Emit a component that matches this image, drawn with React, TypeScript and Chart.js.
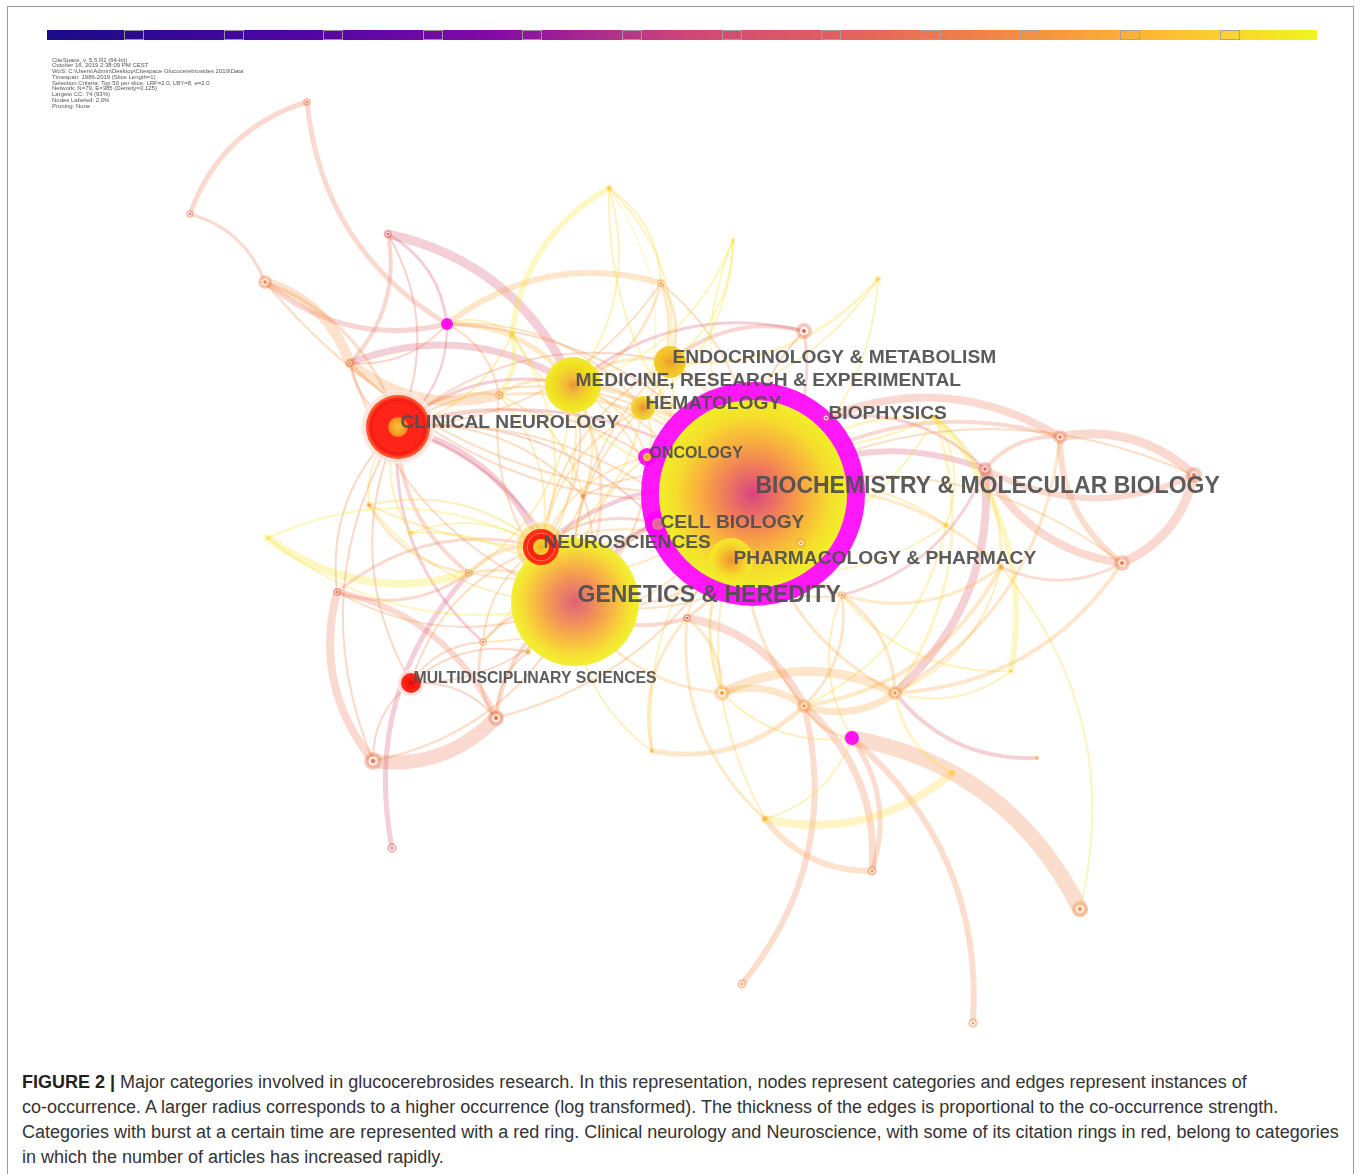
import React, { useEffect, useRef } from "react";
import { Chart, registerables } from "chart.js";

Chart.register(...registerables);

const CANVAS_W = 1360;
const CANVAS_H = 1060;
const FIRST_YEAR = 1986;
const LAST_YEAR = 2019;

// ---- header text of the CiteSpace map ----
const infoLines = [
  "CiteSpace, v. 5.5.R2 (64-bit)",
  "October 16, 2019 2:38:09 PM CEST",
  "WoS: C:\\Users\\Admin\\Desktop\\Citespace Glucocerebrosides 2019\\Data",
  "Timespan: 1986-2019 (Slice Length=1)",
  "Selection Criteria: Top 50 per slice, LRF=2.0, LBY=8, e=2.0",
  "Network: N=79, E=385 (Density=0.125)",
  "Largest CC: 74 (93%)",
  "Nodes Labeled: 2.0%",
  "Pruning: None",
];

// ---- nodes (layout coordinates, radius, first year) ----
const nodeLabels = [
  "BIOCHEMISTRY & MOLECULAR BIOLOGY", "GENETICS & HEREDITY", "CLINICAL NEUROLOGY", "NEUROSCIENCES",
  "MEDICINE, RESEARCH & EXPERIMENTAL", "ENDOCRINOLOGY & METABOLISM", "HEMATOLOGY", "BIOPHYSICS",
  "ONCOLOGY", "CELL BIOLOGY", "PHARMACOLOGY & PHARMACY", "MULTIDISCIPLINARY SCIENCES",
  "", "", "", "", "", "", "", "", "", "", "", "", "", "", "", "", "", "", "", "", "", "", "", "",
  "", "", "", "", "", "", "", "", "", "", "", "", "", "", "", "", "", "", "", "", "", "", "",
];
const nodeX = [
  753, 575, 398, 541, 573, 670, 643, 826, 647, 658, 731, 411,
  307, 190, 265, 388, 447, 350, 499, 609, 661, 512, 733, 878, 804, 935, 1060, 985, 1194, 1122,
  1001, 946, 842, 801, 583, 369, 411, 469, 337, 483, 528, 496, 373, 392, 268, 687, 722, 804,
  895, 852, 1011, 1037, 952, 652, 765, 872, 1080, 742, 973,
];
const nodeY = [
  494, 602, 427, 547, 385, 362, 408, 418, 457, 524, 560, 683,
  102, 214, 282, 234, 324, 363, 395, 188, 283, 334, 240, 279, 331, 417, 437, 469, 475, 563,
  567, 525, 595, 543, 496, 505, 533, 573, 592, 642, 652, 718, 761, 848, 538, 618, 693, 706,
  693, 738, 671, 758, 773, 751, 819, 871, 909, 984, 1023,
];
const nodeRadius = [
  112, 64, 32, 18, 28, 16, 12, 5, 9, 13, 22, 10,
  4, 4, 7, 4, 6, 4, 4, 3, 4, 3, 2, 3, 8, 3, 7, 7, 8, 8,
  3, 3, 4, 5, 3, 3, 3, 4, 4, 4, 3, 8, 9, 5, 2, 4, 8, 7,
  7, 7, 2, 2, 3, 2, 3, 5, 8, 5, 5,
];
const nodeYear = [
  1986, 1987, 1995, 1993, 1992, 1994, 1994, 2004, 1996, 1990, 1995, 2005,
  2009, 2009, 2010, 2007, 2000, 2011, 2011, 2016, 2012, 2016, 2017, 2016, 2008, 2016, 2009, 2007, 2009, 2010,
  2013, 2016, 2012, 2012, 2010, 2013, 2017, 2010, 2008, 2011, 2013, 2009, 2009, 2006, 2018, 2007, 2013, 2012,
  2012, 2000, 2017, 2014, 2016, 2015, 2014, 2011, 2011, 2011, 2011,
];
// high betweenness centrality (purple ring) and citation burst (red ring)
const centralNodes = [0, 8, 9, 16, 49];
const burstNodes = [2, 3, 11];

// ---- edges: [source, target, co-occurrence strength, year] ----
const edges: [number, number, number, number][] = [
  [13, 12, 5, 2009], [16, 12, 5, 2009], [13, 14, 3, 2009], [16, 14, 5, 2007], [14, 17, 10, 2012],
  [18, 17, 10, 2012], [15, 16, 3, 2003], [15, 4, 9, 2004], [15, 17, 4, 2008], [17, 4, 7, 2004],
  [16, 20, 6, 2013], [16, 4, 5, 2014], [16, 2, 2, 2005], [16, 18, 2, 2012], [16, 21, 2, 2016],
  [16, 6, 2, 2013], [16, 0, 2, 2010], [16, 17, 2, 2010], [21, 19, 6, 2018], [21, 18, 5, 2018],
  [19, 4, 2, 2017], [19, 20, 2, 2017], [19, 6, 1, 2017], [20, 4, 3, 2013], [20, 6, 3, 2014],
  [20, 0, 2, 2012], [20, 5, 3, 2013], [22, 5, 2, 2018], [22, 6, 2, 2018], [23, 5, 3, 2017],
  [23, 0, 2, 2017], [5, 24, 4, 2008], [24, 0, 3, 2008], [4, 24, 3, 2004], [2, 17, 3, 2010],
  [7, 26, 8, 2009], [26, 28, 9, 2009], [28, 29, 9, 2009], [29, 26, 6, 2010], [29, 27, 8, 2009],
  [27, 26, 4, 2009], [0, 27, 6, 2004], [0, 26, 4, 2009], [7, 27, 3, 2005], [25, 31, 2, 2017],
  [25, 30, 3, 2016], [25, 48, 3, 2017], [0, 25, 3, 2017], [25, 50, 6, 2018], [27, 48, 8, 2005],
  [29, 48, 4, 2013], [30, 32, 3, 2014], [30, 47, 4, 2014], [29, 30, 3, 2010], [30, 48, 2, 2016],
  [27, 32, 3, 2006], [28, 27, 6, 2009], [26, 48, 3, 2013], [0, 7, 3, 2008], [31, 47, 2, 2017],
  [0, 31, 2, 2016], [0, 30, 3, 2014],
  [45, 47, 8, 2009], [47, 55, 7, 2010], [46, 48, 9, 2013], [46, 47, 7, 2013], [48, 47, 7, 2013],
  [49, 56, 16, 2010], [49, 58, 6, 2010], [49, 55, 5, 2010], [47, 57, 6, 2010], [55, 54, 6, 2012],
  [52, 54, 8, 2017], [47, 53, 5, 2013], [53, 0, 2, 2017], [53, 45, 3, 2014], [51, 48, 4, 2005],
  [50, 48, 2, 2017], [50, 32, 2, 2017], [30, 56, 2, 2017], [49, 54, 2, 2017], [49, 47, 3, 2012],
  [49, 32, 2, 2016], [49, 46, 2, 2016], [32, 47, 3, 2013], [32, 48, 3, 2013], [32, 0, 3, 2012],
  [45, 46, 3, 2014], [45, 1, 4, 2009], [54, 45, 3, 2014], [52, 48, 3, 2017], [47, 0, 3, 2013],
  [48, 0, 3, 2013], [46, 0, 2, 2017], [46, 1, 3, 2014],
  [42, 38, 8, 2009], [38, 41, 6, 2009], [41, 42, 14, 2009], [43, 37, 5, 2004], [41, 1, 4, 2009],
  [41, 39, 3, 2010], [41, 40, 2, 2012], [11, 39, 2, 2010], [11, 40, 2, 2010], [11, 41, 2, 2009],
  [37, 2, 4, 2009], [37, 3, 4, 2013], [37, 1, 3, 2013], [37, 38, 3, 2009], [37, 35, 3, 2014],
  [39, 2, 3, 2004], [39, 1, 3, 2010], [39, 3, 2, 2012], [37, 44, 8, 2018], [35, 2, 2, 2017],
  [36, 2, 2, 2017], [36, 3, 2, 2017], [2, 4, 3, 2004], [2, 3, 6, 2004], [2, 1, 3, 2004],
  [2, 18, 3, 2013], [38, 3, 3, 2009], [40, 1, 3, 2012], [42, 11, 2, 2009],
  [4, 0, 4, 2013], [4, 1, 3, 2013], [4, 6, 3, 2014], [4, 5, 3, 2014], [4, 34, 2, 2016],
  [4, 3, 2, 2012], [5, 0, 3, 2013], [6, 0, 3, 2014], [8, 0, 2, 2010], [34, 0, 2, 2012],
  [34, 1, 2, 2012], [3, 0, 4, 2003], [3, 1, 4, 2005], [1, 0, 5, 2004], [10, 0, 3, 2012],
  [18, 0, 3, 2013], [18, 4, 3, 2014], [2, 0, 3, 2005], [2, 34, 2, 2012], [33, 1, 2, 2013],
  [8, 1, 2, 2012], [6, 3, 2, 2016], [34, 3, 2, 2013], [18, 3, 2, 2016], [18, 34, 2, 2016],
  [2, 6, 2, 2012], [2, 5, 2, 2010], [2, 8, 2, 2011], [2, 9, 2, 2008], [2, 10, 2, 2012],
  [4, 8, 2, 2015], [4, 9, 2, 2014], [4, 10, 2, 2014], [4, 37, 2, 2016], [4, 39, 2, 2016],
  [3, 5, 2, 2013], [3, 6, 2, 2014], [3, 8, 2, 2015], [3, 9, 3, 2008], [3, 10, 2, 2014],
  [1, 5, 2, 2013], [1, 6, 2, 2013], [1, 8, 2, 2014], [1, 9, 3, 2007], [10, 1, 3, 2012],
  [1, 18, 2, 2012], [1, 17, 2, 2011], [0, 17, 2, 2011], [0, 14, 2, 2012], [0, 35, 2, 2016],
  [0, 37, 2, 2014], [0, 39, 2, 2014], [0, 41, 2, 2012], [0, 45, 3, 2011], [0, 29, 2, 2013],
  [0, 28, 2, 2012], [0, 24, 2, 2010], [0, 21, 2, 2017], [0, 19, 2, 2017], [0, 22, 2, 2018],
  [1, 44, 2, 2018], [1, 35, 2, 2016], [1, 38, 2, 2011], [1, 42, 2, 2011],
  [1, 11, 2, 2010], [11, 2, 2, 2010], [11, 3, 2, 2012], [5, 6, 2, 2015], [6, 8, 2, 2015],
  [8, 9, 2, 2012], [9, 10, 2, 2013], [5, 8, 2, 2016], [19, 5, 2, 2017], [22, 4, 2, 2018],
  [23, 6, 2, 2017], [25, 10, 2, 2017], [25, 6, 2, 2017], [31, 10, 2, 2017], [33, 10, 2, 2013],
  [32, 10, 2, 2013], [45, 10, 2, 2014], [46, 10, 2, 2015], [53, 1, 2, 2016], [54, 0, 2, 2016],
  [42, 2, 2, 2010], [38, 2, 2, 2010], [14, 2, 3, 2011],
  [15, 2, 2, 2008], [20, 2, 2, 2012], [21, 2, 2, 2016], [21, 3, 2, 2017], [44, 3, 2, 2018],
  [36, 1, 2, 2017], [35, 3, 2, 2016],
];

// ---- styles ----
const barStops: [number, number[]][] = [
  [0, [25, 12, 135]], [0.2, [80, 5, 165]], [0.35, [130, 10, 165]], [0.5, [205, 70, 120]],
  [0.62, [225, 95, 95]], [0.75, [242, 135, 70]], [0.85, [252, 175, 55]], [0.93, [252, 210, 45]],
  [1, [238, 245, 30]],
];
function tone(year: number): number[] {
  const t = Math.max(0, Math.min(1, (year - FIRST_YEAR) / (LAST_YEAR - FIRST_YEAR)));
  for (let k = 1; k < barStops.length; k++) {
    const [t1, c1] = barStops[k];
    const [t0, c0] = barStops[k - 1];
    if (t <= t1) {
      const f = (t - t0) / (t1 - t0);
      return c0.map((v, j) => Math.round(v + (c1[j] - v) * f));
    }
  }
  return barStops[barStops.length - 1][1];
}
const rgba = (c: number[], a: number) => `rgba(${c[0]},${c[1]},${c[2]},${a})`;

const treeRings: Record<number, [number, string][]> = {
  0: [[0, "rgba(212,70,122,0.95)"], [0.1, "rgba(224,90,110,0.95)"], [0.32, "rgba(240,132,80,0.95)"], [0.58, "rgba(248,182,55,0.97)"], [0.8, "rgba(246,218,45,1)"], [1, "rgba(240,240,40,1)"]],
  1: [[0, "rgba(222,95,112,0.95)"], [0.13, "rgba(228,110,105,0.95)"], [0.38, "rgba(242,142,80,0.95)"], [0.63, "rgba(248,186,60,0.97)"], [0.85, "rgba(245,226,50,1)"], [1, "rgba(242,240,52,1)"]],
  2: [[0, "#f7c840"], [0.12, "#f6b030"], [0.28, "#f39020"], [0.33, "#ff2418"], [0.78, "#ff2418"], [0.83, "#f01a14"], [0.9, "#ff2a18"], [0.95, "#ff5a30"], [1, "#ff4a28"]],
  3: [[0, "#f0a020"], [0.15, "#f5c030"], [0.42, "#f7c828"], [0.47, "#ff2010"], [0.7, "#ff2010"], [0.76, "#ff7040"], [0.82, "#ff2a10"], [1, "#ff3515"]],
  4: [[0, "#ee9630"], [0.3, "#f2be38"], [0.7, "#f0e020"], [1, "#f2ea30"]],
  5: [[0, "#ea9a28"], [0.4, "#f0b828"], [1, "#f4cc28"]],
  6: [[0, "#ec8c2c"], [0.4, "#f0b438"], [1, "#f0dc30"]],
  8: [[0, "#f0a040"], [1, "#f5c040"]],
  9: [[0, "#e06090"], [1, "#e870b0"]],
  10: [[0, "rgba(240,140,50,0.95)"], [0.3, "rgba(245,172,45,0.95)"], [0.7, "rgba(245,218,42,0.95)"], [1, "rgba(245,235,40,0.95)"]],
  11: [[0, "#d80c0c"], [0.45, "#ff1a10"], [1, "#ff2a1a"]],
};
const haloStyle: Record<number, [number, string]> = {
  2: [4, "rgba(255,222,210,0.75)"],
  3: [7, "rgba(250,212,90,0.6)"],
  11: [3, "rgba(255,215,215,0.7)"],
};
const labelFont: Record<number, number> = { 0: 23, 1: 23, 8: 16, 11: 15.8 };
const labelDy: Record<number, number> = { 0: -9, 1: -8, 8: -5, 9: -3, 10: -3 };
const EDGE_BEND = 0.25;

function innerRadius(i: number): number {
  const r = nodeRadius[i];
  if (!centralNodes.includes(i)) return r;
  if (r >= 50) return r * 0.84;
  if (r <= 7) return 0;
  return r * 0.46;
}

function nodeGradient(g: CanvasRenderingContext2D, i: number, px: number, py: number, r: number) {
  const grad = g.createRadialGradient(px, py, 0, px, py, Math.max(r, 0.5));
  const stops = treeRings[i];
  if (stops) {
    stops.forEach(([o, c]) => grad.addColorStop(o, c));
    return grad;
  }
  const c = tone(nodeYear[i]);
  if (r >= 4) {
    grad.addColorStop(0, rgba(c, 0.9));
    grad.addColorStop(0.2, rgba(c, 0.9));
    grad.addColorStop(0.28, "rgba(255,255,255,0.75)");
    grad.addColorStop(0.48, "rgba(255,255,255,0.6)");
    grad.addColorStop(0.56, rgba(c, 0.4));
    grad.addColorStop(1, rgba(c, 0.35));
  } else {
    grad.addColorStop(0, rgba(c, 0.95));
    grad.addColorStop(0.35, rgba(c, 0.85));
    grad.addColorStop(0.45, rgba(c, 0.5));
    grad.addColorStop(1, rgba(c, 0.4));
  }
  return grad;
}

const captionLines = [
  " Major categories involved in glucocerebrosides research. In this representation, nodes represent categories and edges represent instances of",
  "co-occurrence. A larger radius corresponds to a higher occurrence (log transformed). The thickness of the edges is proportional to the co-occurrence strength.",
  "Categories with burst at a certain time are represented with a red ring. Clinical neurology and Neuroscience, with some of its citation rings in red, belong to categories",
  "in which the number of articles has increased rapidly.",
];

const decorPlugin = {
  id: "citespaceDecor",
  beforeDraw(chart: any) {
    const g: CanvasRenderingContext2D = chart.ctx;
    g.save();
    // timeline colour bar
    const x0 = 47, x1 = 1317, y0 = 30, h = 10;
    const lin = g.createLinearGradient(x0, 0, x1, 0);
    barStops.forEach(([o, c]) => lin.addColorStop(o, rgba(c, 1)));
    g.fillStyle = lin;
    g.fillRect(x0, y0, x1 - x0, h);
    g.strokeStyle = "rgba(160,160,160,0.9)";
    g.lineWidth = 1;
    for (let k = 0; k < 12; k++) {
      const bx = Math.round(124 + k * 99.6);
      g.strokeRect(bx + 0.5, y0 + 0.5, 19, h - 1);
    }
    // info text
    g.fillStyle = "#555";
    g.font = '6px "Liberation Sans", Arial, sans-serif';
    g.textBaseline = "alphabetic";
    infoLines.forEach((s, k) => g.fillText(s, 52, 61.5 + k * 5.75));
    g.restore();
  },
  beforeDatasetsDraw(chart: any) {
    const g: CanvasRenderingContext2D = chart.ctx;
    const sx = chart.scales.x, sy = chart.scales.y;
    g.save();
    g.lineCap = "round";
    for (const [s, t, w, yr] of edges) {
      const x1 = sx.getPixelForValue(nodeX[s]), y1 = sy.getPixelForValue(nodeY[s]);
      const x2 = sx.getPixelForValue(nodeX[t]), y2 = sy.getPixelForValue(nodeY[t]);
      const dx = x2 - x1, dy = y2 - y1;
      const cx = (x1 + x2) / 2 + EDGE_BEND * dy;
      const cy = (y1 + y2) / 2 - EDGE_BEND * dx;
      g.strokeStyle = rgba(tone(yr), w <= 2 ? 0.3 : 0.27);
      g.lineWidth = w;
      g.beginPath();
      g.moveTo(x1, y1);
      g.quadraticCurveTo(cx, cy, x2, y2);
      g.stroke();
    }
    g.restore();
  },
  afterDatasetsDraw(chart: any) {
    const g: CanvasRenderingContext2D = chart.ctx;
    const sx = chart.scales.x, sy = chart.scales.y;
    g.save();
    g.fillStyle = "rgba(78,78,78,0.92)";
    g.textBaseline = "alphabetic";
    nodeLabels.forEach((label, i) => {
      if (!label) return;
      const size = labelFont[i] ?? 19.2;
      const dy = labelDy[i] ?? -6;
      g.font = `bold ${size}px "Liberation Sans", Arial, sans-serif`;
      const px = sx.getPixelForValue(nodeX[i]);
      const py = sy.getPixelForValue(nodeY[i]);
      g.fillText(label, px + 2.5, py + dy + 0.358 * size);
    });
    g.restore();
  },
};

export default function App() {
  const ref = useRef<HTMLCanvasElement | null>(null);

  useEffect(() => {
    if (!ref.current) return;
    const allIdx = nodeLabels.map((_, i) => i);
    const mainIdx = allIdx.filter((i) => innerRadius(i) > 0);
    const fallback = "rgba(240,200,80,0.8)";
    const chart = new Chart(ref.current, {
      type: "bubble",
      data: {
        datasets: [
          {
            label: "nodes",
            data: mainIdx.map((i) => ({ x: nodeX[i], y: nodeY[i], r: innerRadius(i) })),
            backgroundColor: (c: any) => {
              if (c.type !== "data") return fallback;
              const i = mainIdx[c.dataIndex];
              const ch = c.chart;
              const sx = ch.scales && ch.scales.x;
              const sy = ch.scales && ch.scales.y;
              if (!sx || !sy) return fallback;
              const px = sx.getPixelForValue(nodeX[i]);
              const py = sy.getPixelForValue(nodeY[i]);
              if (!Number.isFinite(px) || !Number.isFinite(py)) return fallback;
              try {
                return nodeGradient(ch.ctx, i, px, py, innerRadius(i));
              } catch (e) {
                return fallback;
              }
            },
            borderWidth: 0,
            order: 1,
            clip: false as any,
          },
          {
            label: "centrality",
            data: centralNodes.map((i) => ({ x: nodeX[i], y: nodeY[i], r: nodeRadius[i] })),
            backgroundColor: "rgba(255,0,250,0.9)",
            borderWidth: 0,
            order: 2,
            clip: false as any,
          },
          {
            label: "burst halo",
            data: burstNodes.map((i) => ({ x: nodeX[i], y: nodeY[i], r: nodeRadius[i] + haloStyle[i][0] })),
            backgroundColor: burstNodes.map((i) => haloStyle[i][1]),
            borderColor: "rgba(255,240,235,0.9)",
            borderWidth: 1.5,
            order: 3,
            clip: false as any,
          },
        ],
      },
      options: {
        responsive: false,
        animation: false,
        devicePixelRatio: 1,
        events: [],
        layout: { padding: 0, autoPadding: false },
        plugins: { legend: { display: false }, tooltip: { enabled: false }, title: { display: false } },
        scales: {
          x: { type: "linear", min: 0, max: CANVAS_W, display: false },
          y: { type: "linear", min: 0, max: CANVAS_H, reverse: true, display: false },
        },
      },
      plugins: [decorPlugin],
    } as any);
    chart.update("none");
    return () => chart.destroy();
  }, []);

  return (
    <div style={{ position: "absolute", left: 0, top: 0, width: 1360, height: 1174, background: "#fff", overflow: "hidden" }}>
      <div
        style={{
          position: "absolute", left: 7, top: 6, width: 1347, height: 1168, boxSizing: "border-box",
          borderLeft: "1px solid #9a9a9a", borderTop: "1px solid #9a9a9a", borderRight: "1px solid #9a9a9a",
        }}
      />
      <canvas ref={ref} width={CANVAS_W} height={CANVAS_H} style={{ position: "absolute", left: 0, top: 0, display: "block" }} />
      <div
        style={{
          position: "absolute", left: 22, top: 1070, whiteSpace: "nowrap", color: "#333",
          font: '18px "Liberation Sans", Arial, sans-serif', lineHeight: "25px",
        }}
      >
        {captionLines.map((line, k) => (
          <div key={k}>
            {k === 0 ? <b style={{ color: "#222" }}>FIGURE 2 |</b> : null}
            {line}
          </div>
        ))}
      </div>
    </div>
  );
}
